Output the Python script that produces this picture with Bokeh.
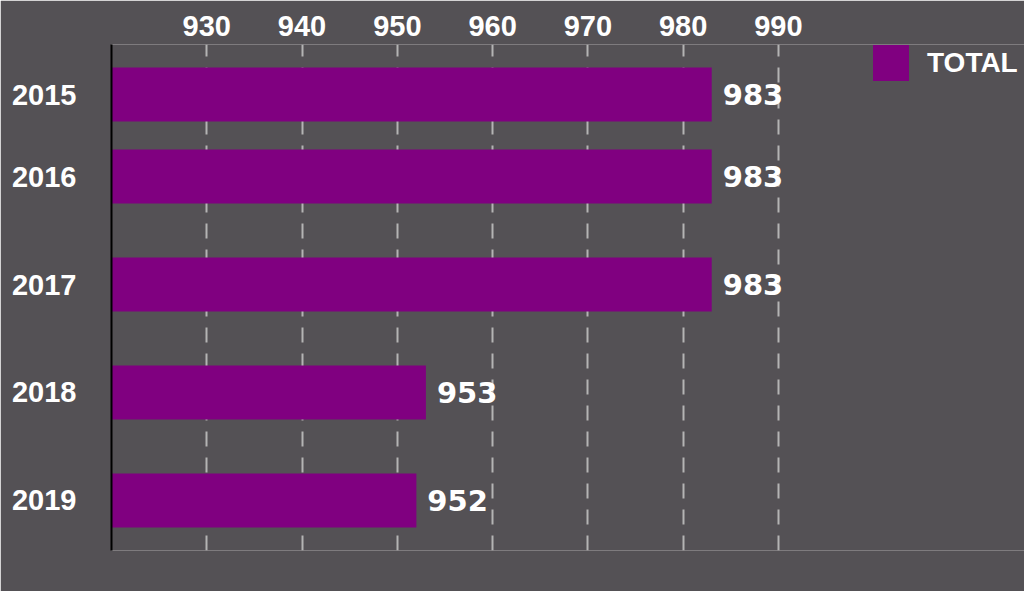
from bokeh.plotting import figure
from bokeh.models import ColumnDataSource, FactorRange, FixedTicker, Legend, LegendItem
from bokeh.core.properties import value
from bokeh.embed import file_html
from bokeh.resources import INLINE

# ---- data ----
years = ["2015", "2016", "2017", "2018", "2019"]
totals = [983, 983, 983, 953, 952]
x_ticks = [930, 940, 950, 960, 970, 980, 990]
series_name = "TOTAL"

# ---- layout grouping (2015 and 2016 sit closer together in the original) ----
bands = [" ", " ", "  ", "   ", "    "]
factors = [(b, y) for b, y in zip(bands, years)]

BG = "#545155"
PURPLE = "#800080"

src = ColumnDataSource(data=dict(
    y=factors,
    total=totals,
    label=[f"{t:.0f}" for t in totals],
))

yr = FactorRange(factors=list(reversed(factors)), factor_padding=0.0,
                 group_padding=0.317, range_padding=0.11, range_padding_units="absolute")

p = figure(width=1024, height=591, y_range=yr, x_range=(920, 1015.83),
           x_axis_location="above", output_backend="svg", toolbar_location=None,
           min_border_left=111, min_border_top=44, min_border_right=0, min_border_bottom=41)

p.background_fill_color = BG
p.border_fill_color = BG
p.outline_line_color = None

r = p.hbar(y="y", right="total", left=920, height=0.66, source=src,
           fill_color=PURPLE, line_color=None)

p.text(x="total", y="y", text="label", source=src, x_offset=11,
       text_baseline="middle", text_align="left", text_color="white",
       text_font=value("DejaVu Sans"), text_font_style="bold", text_font_size="29px")

# x axis (top)
xa = p.xaxis[0]
xa.ticker = FixedTicker(ticks=x_ticks)
xa.axis_line_color = None
xa.major_tick_line_color = None
xa.minor_tick_line_color = None
xa.major_tick_out = 0
xa.major_tick_in = 0
xa.major_label_standoff = 9
xa.major_label_text_color = "white"
xa.major_label_text_font = "Liberation Sans"
xa.major_label_text_font_style = "bold"
xa.major_label_text_font_size = "29px"

# y axis (left)
ya = p.yaxis[0]
ya.axis_line_color = "black"
ya.axis_line_width = 2
ya.major_tick_line_color = None
ya.minor_tick_line_color = None
ya.major_tick_out = 0
ya.major_tick_in = 0
ya.major_label_standoff = 35
ya.major_label_text_color = "white"
ya.major_label_text_font = "Liberation Sans"
ya.major_label_text_font_style = "bold"
ya.major_label_text_font_size = "29px"
ya.group_text_font_size = "0px"
ya.group_text_color = None
ya.group_label_orientation = "horizontal"
ya.separator_line_color = None

p.ygrid.grid_line_color = None
p.xgrid.grid_line_color = "#b4b4b4"
p.xgrid.grid_line_width = 2
p.xgrid.grid_line_dash = "15 11"

legend = Legend(items=[LegendItem(label=series_name, renderers=[r])],
                location=(757, 465), margin=0, padding=0, spacing=0,
                glyph_width=45, glyph_height=45, label_standoff=14,
                label_text_color="white", label_text_font="Liberation Sans",
                label_text_font_style="bold", label_text_font_size="28px",
                background_fill_alpha=0, border_line_color=None)
p.add_layout(legend)

open("out.html", "w").write(file_html(p, INLINE))
